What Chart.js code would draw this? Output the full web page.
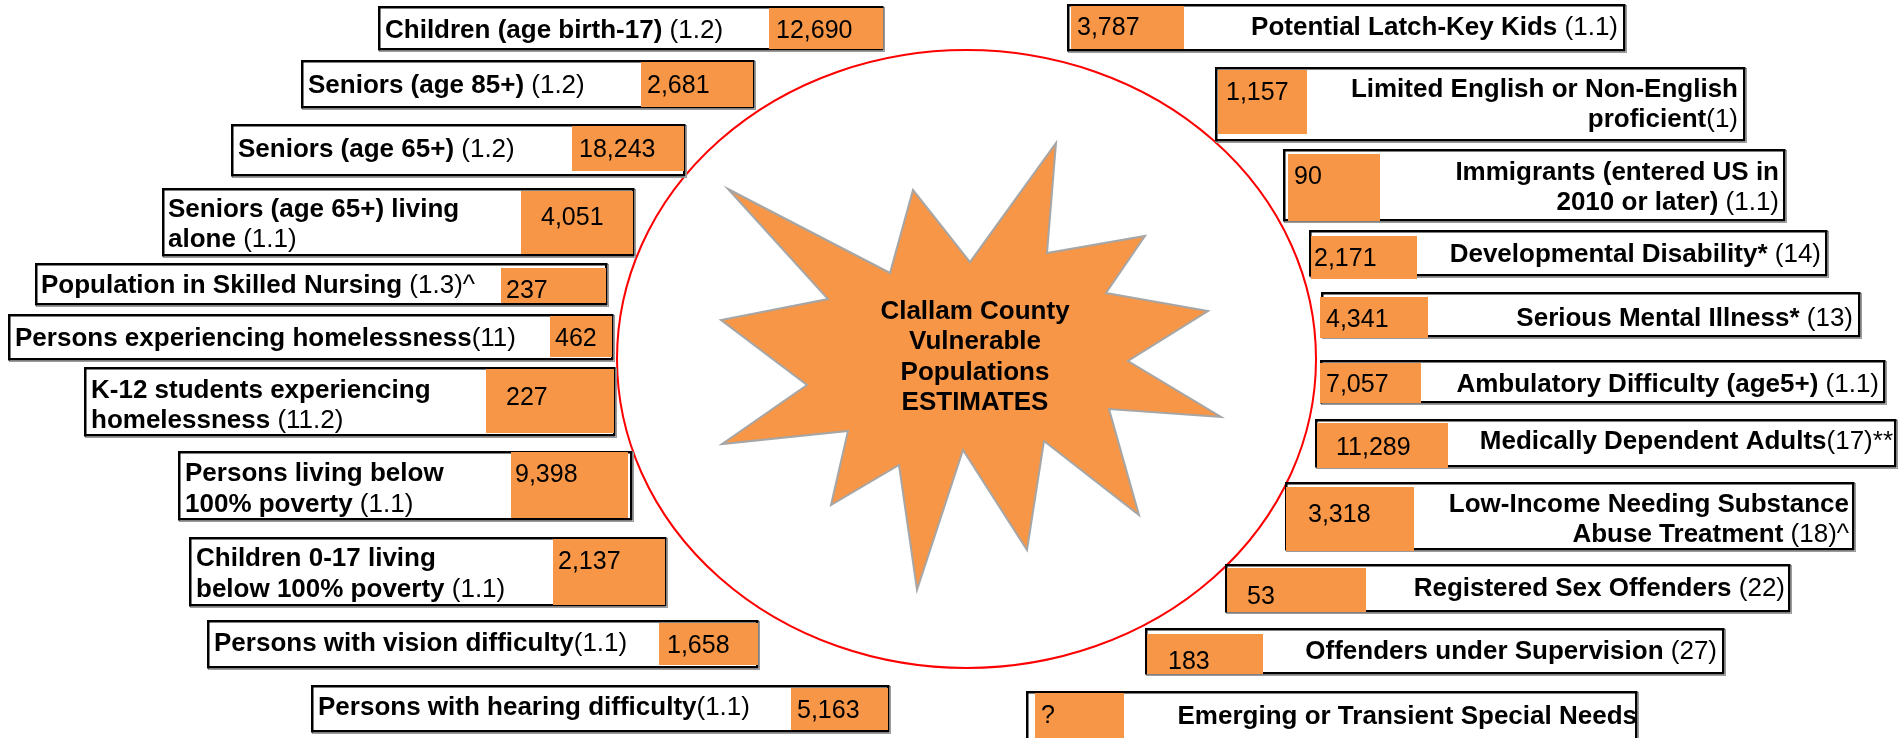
<!DOCTYPE html>
<html>
<head>
<meta charset="utf-8">
<title>Clallam County Vulnerable Populations Estimates</title>
<script src="https://cdn.jsdelivr.net/npm/chart.js@4.4.1/dist/chart.umd.min.js"></script>
<style>
  html, body { margin: 0; padding: 0; background: #ffffff; }
  #wrap { position: relative; width: 1900px; height: 738px; }
</style>
</head>
<body>
<div id="wrap"><canvas id="chart" width="1900" height="738"></canvas></div>
<script>
// ---------------- DATA ----------------
const centerTitle = ["Clallam County", "Vulnerable", "Populations", "ESTIMATES"];

// each label: list of lines, each line = [bold part, regular part]
const leftLabels = [
  [["Children (age birth-17)", " (1.2)"]],
  [["Seniors (age 85+)", " (1.2)"]],
  [["Seniors (age 65+)", " (1.2)"]],
  [["Seniors (age 65+) living", ""], ["alone", " (1.1)"]],
  [["Population in Skilled Nursing", " (1.3)^"]],
  [["Persons experiencing homelessness", "(11)"]],
  [["K-12 students experiencing", ""], ["homelessness", " (11.2)"]],
  [["Persons living below", ""], ["100% poverty", " (1.1)"]],
  [["Children 0-17 living", ""], ["below 100% poverty", " (1.1)"]],
  [["Persons with vision difficulty", "(1.1)"]],
  [["Persons with hearing difficulty", "(1.1)"]]
];
const leftValues = [12690, 2681, 18243, 4051, 237, 462, 227, 9398, 2137, 1658, 5163];

const rightLabels = [
  [["Potential Latch-Key Kids", " (1.1)"]],
  [["Limited English or Non-English", ""], ["proficient", "(1)"]],
  [["Immigrants (entered US in", ""], ["2010 or later)", " (1.1)"]],
  [["Developmental Disability*", " (14)"]],
  [["Serious Mental Illness*", " (13)"]],
  [["Ambulatory Difficulty (age5+)", " (1.1)"]],
  [["Medically Dependent Adults", "(17)**"]],
  [["Low-Income Needing Substance", ""], ["Abuse Treatment", " (18)^"]],
  [["Registered Sex Offenders", " (22)"]],
  [["Offenders under Supervision", " (27)"]],
  [["Emerging or Transient Special Needs", ""]]
];
const rightValues = [3787, 1157, 90, 2171, 4341, 7057, 11289, 3318, 53, 183, null];

// ---------------- LAYOUT (positions in scale units) ----------------
// box: [x1,y1,x2,y2], fill: orange [x1,y1,x2,y2], tx: label anchor x, ly: line centre ys, num: [x,y]
const leftLayout = [
  { box: [378, 6, 884, 51],   fill: [769, 8, 883, 49],    tx: 385, ly: [29],       num: [776, 29] },
  { box: [301, 60, 755, 109], fill: [641, 62, 753, 107],  tx: 308, ly: [84],       num: [647, 84] },
  { box: [231, 124, 686, 177], fill: [572, 126, 684, 171], tx: 238, ly: [148],     num: [579, 148] },
  { box: [162, 188, 635, 257], fill: [521, 191, 633, 254], tx: 168, ly: [208, 238], num: [541, 216] },
  { box: [35, 263, 608, 306], fill: [501, 268, 606, 303], tx: 41, ly: [284],       num: [506, 289] },
  { box: [8, 314, 614, 361],  fill: [550, 316, 612, 357], tx: 15, ly: [337],       num: [555, 337] },
  { box: [84, 367, 616, 437], fill: [486, 369, 614, 433], tx: 91, ly: [389, 419],  num: [506, 396] },
  { box: [178, 451, 633, 521], fill: [511, 452, 628, 518], tx: 185, ly: [472, 503], num: [515, 473] },
  { box: [189, 537, 667, 607], fill: [553, 539, 665, 605], tx: 196, ly: [557, 588], num: [558, 560] },
  { box: [207, 620, 759, 669], fill: [659, 623, 758, 665], tx: 214, ly: [642],      num: [667, 644] },
  { box: [311, 685, 890, 733], fill: [791, 688, 888, 730], tx: 318, ly: [706],      num: [797, 709] }
];
const rightLayout = [
  { box: [1067, 4, 1626, 52],    fill: [1071, 6, 1184, 49],    tx: 1618, ly: [26],       num: [1077, 26] },
  { box: [1215, 67, 1746, 142],  fill: [1218, 70, 1307, 134],  tx: 1738, ly: [88, 118],  num: [1226, 91] },
  { box: [1283, 149, 1786, 222], fill: [1288, 154, 1380, 221], tx: 1779, ly: [171, 201], num: [1294, 175] },
  { box: [1309, 230, 1828, 277], fill: [1311, 236, 1417, 279], tx: 1821, ly: [253],      num: [1314, 257] },
  { box: [1321, 292, 1861, 338], fill: [1320, 297, 1428, 338], tx: 1853, ly: [317],      num: [1326, 318] },
  { box: [1320, 360, 1886, 404], fill: [1320, 363, 1421, 403], tx: 1879, ly: [383],      num: [1326, 383] },
  { box: [1315, 419, 1897, 468], fill: [1317, 423, 1448, 468], tx: 1893, ly: [440],      num: [1336, 446] },
  { box: [1285, 482, 1855, 551], fill: [1286, 487, 1414, 551], tx: 1849, ly: [503, 533], num: [1308, 513] },
  { box: [1225, 564, 1791, 613], fill: [1227, 568, 1366, 612], tx: 1785, ly: [587],      num: [1247, 595] },
  { box: [1145, 628, 1725, 675], fill: [1147, 634, 1263, 674], tx: 1717, ly: [650],      num: [1168, 660] },
  { box: [1026, 691, 1638, 750], fill: [1035, 693, 1124, 750], tx: 1637, ly: [715],      num: [1041, 714] }
];
const ringLayout = { cx: 966.5, cy: 359, rx: 349.5, ry: 309 };
const starPoints = [
  [728, 189], [890, 273], [913, 190], [970, 262], [1056, 143], [1047, 253],
  [1145, 236], [1106, 293], [1208, 311], [1128, 361], [1221, 417], [1109, 409],
  [1139, 515], [1044, 441], [1027, 550], [963, 450], [917, 590], [899, 465],
  [831, 505], [848, 431], [722, 444], [807, 385], [721, 320], [828, 299]
];
const titleLayout = { x: 975, y: [310, 340, 371, 401] };

// ---------------- STYLE ----------------
const FONT = '"Liberation Sans", Arial, Helvetica, sans-serif';
const ORANGE = '#F79646';
const LABEL_SIZE = 26;
const NUM_SIZE = 25;

// ---------------- DRAWING PLUGIN ----------------
const infographic = {
  id: 'infographic',
  afterDraw(chart) {
    const ctx = chart.ctx;
    const X = v => chart.scales.x.getPixelForValue(v);
    const Y = v => chart.scales.y.getPixelForValue(v);

    ctx.save();
    ctx.fillStyle = '#ffffff';
    ctx.fillRect(0, 0, chart.width, chart.height);

    // red ring
    const cx = X(ringLayout.cx), cy = Y(ringLayout.cy);
    const rx = X(ringLayout.cx + ringLayout.rx) - cx;
    const ry = Math.abs(Y(ringLayout.cy + ringLayout.ry) - cy);
    ctx.beginPath();
    ctx.ellipse(cx, cy, rx, ry, 0, 0, Math.PI * 2);
    ctx.strokeStyle = '#FF0000';
    ctx.lineWidth = 2;
    ctx.stroke();

    // star
    ctx.beginPath();
    starPoints.forEach((p, i) => {
      if (i === 0) ctx.moveTo(X(p[0]), Y(p[1])); else ctx.lineTo(X(p[0]), Y(p[1]));
    });
    ctx.closePath();
    ctx.fillStyle = ORANGE;
    ctx.fill();
    ctx.strokeStyle = '#A6A6A6';
    ctx.lineWidth = 2;
    ctx.lineJoin = 'miter';
    ctx.stroke();

    // centre title
    ctx.fillStyle = '#000';
    ctx.font = `bold 26px ${FONT}`;
    ctx.textAlign = 'center';
    ctx.textBaseline = 'alphabetic';
    centerTitle.forEach((t, i) => {
      ctx.fillText(t, X(titleLayout.x), Y(titleLayout.y[i]) + 26 * 0.358);
    });

    const drawLine = (parts, x, y, align) => {
      ctx.textAlign = 'left';
      ctx.textBaseline = 'alphabetic';
      ctx.font = `bold ${LABEL_SIZE}px ${FONT}`;
      const w1 = ctx.measureText(parts[0]).width;
      ctx.font = `${LABEL_SIZE}px ${FONT}`;
      const w2 = parts[1] ? ctx.measureText(parts[1]).width : 0;
      const sx = align === 'right' ? x - w1 - w2 : x;
      const by = y + LABEL_SIZE * 0.358;
      ctx.fillStyle = '#000';
      ctx.font = `bold ${LABEL_SIZE}px ${FONT}`;
      ctx.fillText(parts[0], sx, by);
      if (parts[1]) {
        ctx.font = `${LABEL_SIZE}px ${FONT}`;
        ctx.fillText(parts[1], sx + w1, by);
      }
    };

    const drawItem = (lay, lines, value, align) => {
      const [bx1, by1, bx2, by2] = lay.box;
      const x1 = X(bx1), y1 = Y(by1), x2 = X(bx2), y2 = Y(by2);
      // box with subtle shadow
      ctx.fillStyle = '#ffffff';
      ctx.fillRect(x1, y1, x2 - x1, y2 - y1);
      ctx.strokeStyle = '#9a9a9a';
      ctx.lineWidth = 1;
      ctx.strokeRect(x1 + 1.5, y1 + 1.5, x2 - x1 - 1, y2 - y1 - 1);
      ctx.strokeStyle = '#000';
      ctx.lineWidth = 2.5;
      ctx.strokeRect(x1 + 1.25, y1 + 1.25, x2 - x1 - 3, y2 - y1 - 3);
      // orange value cell
      const [fx1, fy1, fx2, fy2] = lay.fill;
      ctx.fillStyle = ORANGE;
      ctx.fillRect(X(fx1), Y(fy1), X(fx2) - X(fx1), Y(fy2) - Y(fy1));
      // value
      ctx.fillStyle = '#000';
      ctx.font = `${NUM_SIZE}px ${FONT}`;
      ctx.textAlign = 'left';
      ctx.textBaseline = 'alphabetic';
      const txt = value === null ? '?' : value.toLocaleString('en-US');
      ctx.fillText(txt, X(lay.num[0]), Y(lay.num[1]) + NUM_SIZE * 0.358);
      // label lines
      lines.forEach((parts, i) => drawLine(parts, X(lay.tx), Y(lay.ly[i]), align));
    };

    leftLayout.forEach((lay, i) => drawItem(lay, leftLabels[i], leftValues[i], 'left'));
    rightLayout.forEach((lay, i) => drawItem(lay, rightLabels[i], rightValues[i], 'right'));
    ctx.restore();
  }
};

new Chart(document.getElementById('chart'), {
  type: 'scatter',
  data: { datasets: [{ data: [], pointRadius: 0 }] },
  options: {
    responsive: false,
    animation: false,
    layout: { padding: 0 },
    plugins: { legend: { display: false }, tooltip: { enabled: false }, title: { display: false } },
    scales: {
      x: { type: 'linear', min: 0, max: 1900, display: false },
      y: { type: 'linear', min: 0, max: 738, reverse: true, display: false }
    }
  },
  plugins: [infographic]
});
</script>
</body>
</html>
